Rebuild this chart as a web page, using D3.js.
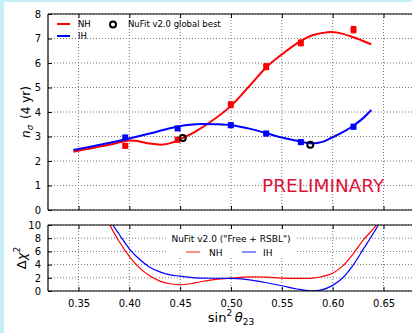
<!DOCTYPE html>
<html>
<head>
<meta charset="utf-8">
<script src="https://cdn.jsdelivr.net/npm/d3@7"></script>
<style>
  html, body { margin: 0; padding: 0; background: #c4eff5; }
  svg { display: block; }
  text { font-family: "DejaVu Sans", sans-serif; }
</style>
</head>
<body>
<svg id="chart" width="412" height="333"></svg>
<script>
// sin^2(theta23) grid for the significance curves
const nhCurveX = [0.345, 0.36, 0.38, 0.40, 0.41, 0.42, 0.433, 0.443, 0.4526, 0.465, 0.48, 0.50, 0.52, 0.535, 0.55, 0.568, 0.58, 0.595, 0.605, 0.617, 0.628, 0.638];
const nhCurveY = [2.38, 2.50, 2.66, 2.84, 2.80, 2.71, 2.67, 2.76, 2.94, 3.20, 3.60, 4.25, 5.15, 5.84, 6.35, 6.88, 7.13, 7.26, 7.24, 7.10, 6.93, 6.76];
const ihCurveX = [0.345, 0.37, 0.40, 0.42, 0.44, 0.455, 0.47, 0.485, 0.50, 0.52, 0.535, 0.55, 0.568, 0.578, 0.59, 0.60, 0.61, 0.62, 0.63, 0.638];
const ihCurveY = [2.45, 2.65, 2.92, 3.12, 3.34, 3.46, 3.51, 3.50, 3.46, 3.30, 3.13, 2.96, 2.80, 2.72, 2.78, 2.97, 3.18, 3.43, 3.75, 4.08];

// simulated points with errors
const nhPointX = [0.396, 0.4475, 0.4998, 0.5346, 0.5687, 0.6205];
const nhPointY = [2.62, 2.87, 4.30, 5.85, 6.82, 7.36];
const nhPointErr = [0.09, 0.09, 0.12, 0.12, 0.12, 0.13];
const ihPointX = [0.396, 0.4475, 0.4998, 0.5346, 0.5687, 0.6205];
const ihPointY = [2.96, 3.33, 3.46, 3.12, 2.77, 3.40];
const ihPointErr = [0.08, 0.08, 0.09, 0.09, 0.09, 0.09];

// NuFit v2.0 global best-fit points
const bestX = [0.4526, 0.578];
const bestY = [2.94, 2.66];

// NuFit v2.0 ("Free + RSBL") delta chi^2 profiles
const chiNhX = [0.37, 0.381, 0.39, 0.40, 0.41, 0.42, 0.43, 0.44, 0.45, 0.46, 0.47, 0.485, 0.50, 0.52, 0.535, 0.55, 0.565, 0.58, 0.59, 0.60, 0.61, 0.62, 0.63, 0.643, 0.65];
const chiNhY = [15, 10, 7.5, 5.25, 3.5, 2.3, 1.5, 1.1, 0.95, 1.1, 1.4, 1.75, 1.95, 2.15, 2.1, 1.95, 1.9, 1.95, 2.2, 2.7, 3.8, 5.6, 7.7, 10, 12];
const chiIhX = [0.37, 0.384, 0.39, 0.40, 0.41, 0.42, 0.43, 0.44, 0.45, 0.46, 0.47, 0.485, 0.50, 0.51, 0.52, 0.535, 0.55, 0.565, 0.578, 0.59, 0.60, 0.61, 0.62, 0.63, 0.645, 0.652];
const chiIhY = [16, 10, 8.6, 6.4, 4.8, 3.6, 2.9, 2.45, 2.25, 2.05, 1.95, 1.93, 1.92, 1.85, 1.65, 1.25, 0.8, 0.3, 0.02, 0.2, 0.85, 2.0, 3.9, 6.3, 10, 12];

const xTicks = [0.35, 0.40, 0.45, 0.50, 0.55, 0.60, 0.65];
const topTicks = [0, 1, 2, 3, 4, 5, 6, 7, 8];
const bottomTicks = [0, 2, 4, 6, 8, 10];

const RED = "#ff0000", BLUE = "#0000ff";

const svg = d3.select("#chart");
svg.append("rect").attr("x", 4).attr("y", 2).attr("width", 408).attr("height", 331).attr("fill", "#ffffff");

const x = d3.scaleLinear().domain([0.32, 0.68]).range([48, 414]);
const yTop = d3.scaleLinear().domain([0, 8]).range([210, 14]);
const yBot = d3.scaleLinear().domain([0, 10]).range([291, 225]);

const defs = svg.append("defs");
defs.append("clipPath").attr("id", "clipTop").append("rect")
  .attr("x", 48).attr("y", 14).attr("width", 366).attr("height", 196);
defs.append("clipPath").attr("id", "clipBot").append("rect")
  .attr("x", 48).attr("y", 225).attr("width", 366).attr("height", 66);

function panel(y, ticks) {
  const [y0, y1] = y.range();
  const g = svg.append("g");
  // dotted grid
  g.selectAll(".gx").data(xTicks).join("line")
    .attr("x1", d => x(d)).attr("x2", d => x(d)).attr("y1", y1).attr("y2", y0)
    .attr("stroke", "#777").attr("stroke-width", 1).attr("stroke-dasharray", "1,2");
  g.selectAll(".gy").data(ticks).join("line")
    .attr("x1", 48).attr("x2", 414).attr("y1", d => y(d)).attr("y2", d => y(d))
    .attr("stroke", "#777").attr("stroke-width", 1).attr("stroke-dasharray", "1,2");
  return g;
}

function frame(y, ticks, showXLabels) {
  const [y0, y1] = y.range();
  const g = svg.append("g");
  g.append("line").attr("x1", 48).attr("x2", 414).attr("y1", y0).attr("y2", y0).attr("stroke", "#000").attr("stroke-width", 1.2);
  g.append("line").attr("x1", 48).attr("x2", 414).attr("y1", y1).attr("y2", y1).attr("stroke", "#000").attr("stroke-width", 1.2);
  g.append("line").attr("x1", 48).attr("x2", 48).attr("y1", y1).attr("y2", y0).attr("stroke", "#000").attr("stroke-width", 1.2);
  // inward ticks
  const left = d3.axisLeft(y).tickValues(ticks).tickSize(-4).tickPadding(7).tickFormat(d3.format("d"));
  const ga = g.append("g").attr("transform", "translate(48,0)").call(left);
  ga.select(".domain").remove();
  ga.selectAll("text").attr("font-size", 10).attr("fill", "#000").attr("font-family", "DejaVu Sans");
  const bottom = d3.axisBottom(x).tickValues(xTicks).tickSize(-4).tickPadding(9).tickFormat(d3.format(".2f"));
  const gb = g.append("g").attr("transform", `translate(0,${y0})`).call(bottom);
  gb.select(".domain").remove();
  if (!showXLabels) gb.selectAll("text").remove();
  else gb.selectAll("text").attr("font-size", 10).attr("fill", "#000").attr("font-family", "DejaVu Sans");
  const top = d3.axisTop(x).tickValues(xTicks).tickSize(-4).tickFormat("");
  const gt = g.append("g").attr("transform", `translate(0,${y1})`).call(top);
  gt.select(".domain").remove();
}

// ---------- upper panel: n_sigma ----------
panel(yTop, topTicks);
const topG = svg.append("g").attr("clip-path", "url(#clipTop)");
const lineTop = (xs, ys) => d3.line().x((d, i) => x(xs[i])).y((d, i) => yTop(ys[i])).curve(d3.curveCatmullRom.alpha(0.5))(xs);

topG.append("path").attr("d", lineTop(nhCurveX, nhCurveY)).attr("fill", "none").attr("stroke", RED).attr("stroke-width", 2);
topG.append("path").attr("d", lineTop(ihCurveX, ihCurveY)).attr("fill", "none").attr("stroke", BLUE).attr("stroke-width", 2);

function points(xs, ys, errs, color) {
  const g = topG.append("g");
  xs.forEach((xv, i) => {
    const cx = x(xv), cy = yTop(ys[i]);
    const ylo = yTop(ys[i] - errs[i]), yhi = yTop(ys[i] + errs[i]);
    g.append("line").attr("x1", cx).attr("x2", cx).attr("y1", ylo).attr("y2", yhi).attr("stroke", color).attr("stroke-width", 1.5);
    [ylo, yhi].forEach(yy => g.append("line").attr("x1", cx - 2.5).attr("x2", cx + 2.5).attr("y1", yy).attr("y2", yy).attr("stroke", color).attr("stroke-width", 1.2));
    g.append("rect").attr("x", cx - 3).attr("y", cy - 3).attr("width", 6).attr("height", 6).attr("fill", color);
  });
}
points(nhPointX, nhPointY, nhPointErr, RED);
points(ihPointX, ihPointY, ihPointErr, BLUE);

topG.selectAll(".best").data(bestX).join("circle")
  .attr("cx", d => x(d)).attr("cy", (d, i) => yTop(bestY[i])).attr("r", 3)
  .attr("fill", "none").attr("stroke", "#000").attr("stroke-width", 2);

frame(yTop, topTicks, false);

// legend (upper)
const lg = svg.append("g");
lg.append("line").attr("x1", 57).attr("x2", 70).attr("y1", 24).attr("y2", 24).attr("stroke", RED).attr("stroke-width", 2);
lg.append("text").attr("x", 78).attr("y", 27).attr("font-size", 8.5).text("NH");
lg.append("line").attr("x1", 57).attr("x2", 70).attr("y1", 36).attr("y2", 36).attr("stroke", BLUE).attr("stroke-width", 2);
lg.append("text").attr("x", 78).attr("y", 39).attr("font-size", 8.5).text("IH");
lg.append("circle").attr("cx", 113).attr("cy", 24.5).attr("r", 3).attr("fill", "none").attr("stroke", "#000").attr("stroke-width", 2);
lg.append("text").attr("x", 128).attr("y", 27).attr("font-size", 8.5).text("NuFit v2.0 global best");

svg.append("text").attr("x", 262).attr("y", 192).attr("font-size", 18.5).attr("fill", "#dc143c").text("PRELIMINARY");

// y label upper
const yl = svg.append("text").attr("transform", "translate(30,112) rotate(-90)").attr("text-anchor", "middle")
  .attr("font-family", "DejaVu Serif").attr("font-size", 12);
yl.append("tspan").attr("font-style", "italic").text("n");
yl.append("tspan").attr("font-style", "italic").attr("font-size", 8.5).attr("dy", 3).text("σ");
yl.append("tspan").attr("dy", -3).text("\u2002(4 yr)");

// ---------- lower panel: delta chi^2 ----------
panel(yBot, bottomTicks);

// legend box (drawn over grid, under curves)
const lb = svg.append("g");
lb.append("rect").attr("x", 167).attr("y", 230).attr("width", 130).attr("height", 28).attr("fill", "#fff");

const botG = svg.append("g").attr("clip-path", "url(#clipBot)");
const lineBot = (xs, ys) => d3.line().x((d, i) => x(xs[i])).y((d, i) => yBot(ys[i])).curve(d3.curveCatmullRom.alpha(0.5))(xs);
botG.append("path").attr("d", lineBot(chiNhX, chiNhY)).attr("fill", "none").attr("stroke", RED).attr("stroke-width", 1.2);
botG.append("path").attr("d", lineBot(chiIhX, chiIhY)).attr("fill", "none").attr("stroke", BLUE).attr("stroke-width", 1.2);

lb.append("text").attr("x", 231).attr("y", 242).attr("text-anchor", "middle").attr("font-size", 9).text("NuFit v2.0 (\"Free + RSBL\")");
lb.append("line").attr("x1", 186).attr("x2", 200).attr("y1", 252).attr("y2", 252).attr("stroke", RED).attr("stroke-opacity", 0.6).attr("stroke-width", 1.5);
lb.append("text").attr("x", 209).attr("y", 255.5).attr("font-size", 9).text("NH");
lb.append("line").attr("x1", 242).attr("x2", 256).attr("y1", 252).attr("y2", 252).attr("stroke", BLUE).attr("stroke-opacity", 0.6).attr("stroke-width", 1.5);
lb.append("text").attr("x", 263).attr("y", 255.5).attr("font-size", 9).text("IH");

frame(yBot, bottomTicks, true);

// y label lower
const yl2 = svg.append("text").attr("transform", "translate(26,258) rotate(-90)").attr("text-anchor", "middle")
  .attr("font-family", "DejaVu Serif").attr("font-size", 13);
yl2.append("tspan").text("Δ");
yl2.append("tspan").attr("font-style", "italic").text("χ");
yl2.append("tspan").attr("font-size", 9).attr("dy", -6).text("2");

// x label
const xl = svg.append("text").attr("x", 231).attr("y", 322).attr("text-anchor", "middle")
  .attr("font-family", "DejaVu Serif").attr("font-size", 13);
xl.append("tspan").text("sin");
xl.append("tspan").attr("font-size", 9).attr("dy", -6).text("2");
xl.append("tspan").attr("dy", 6).text("\u2009");
xl.append("tspan").attr("font-style", "italic").text("θ");
xl.append("tspan").attr("font-size", 9).attr("dy", 3).text("23");
</script>
</body>
</html>
